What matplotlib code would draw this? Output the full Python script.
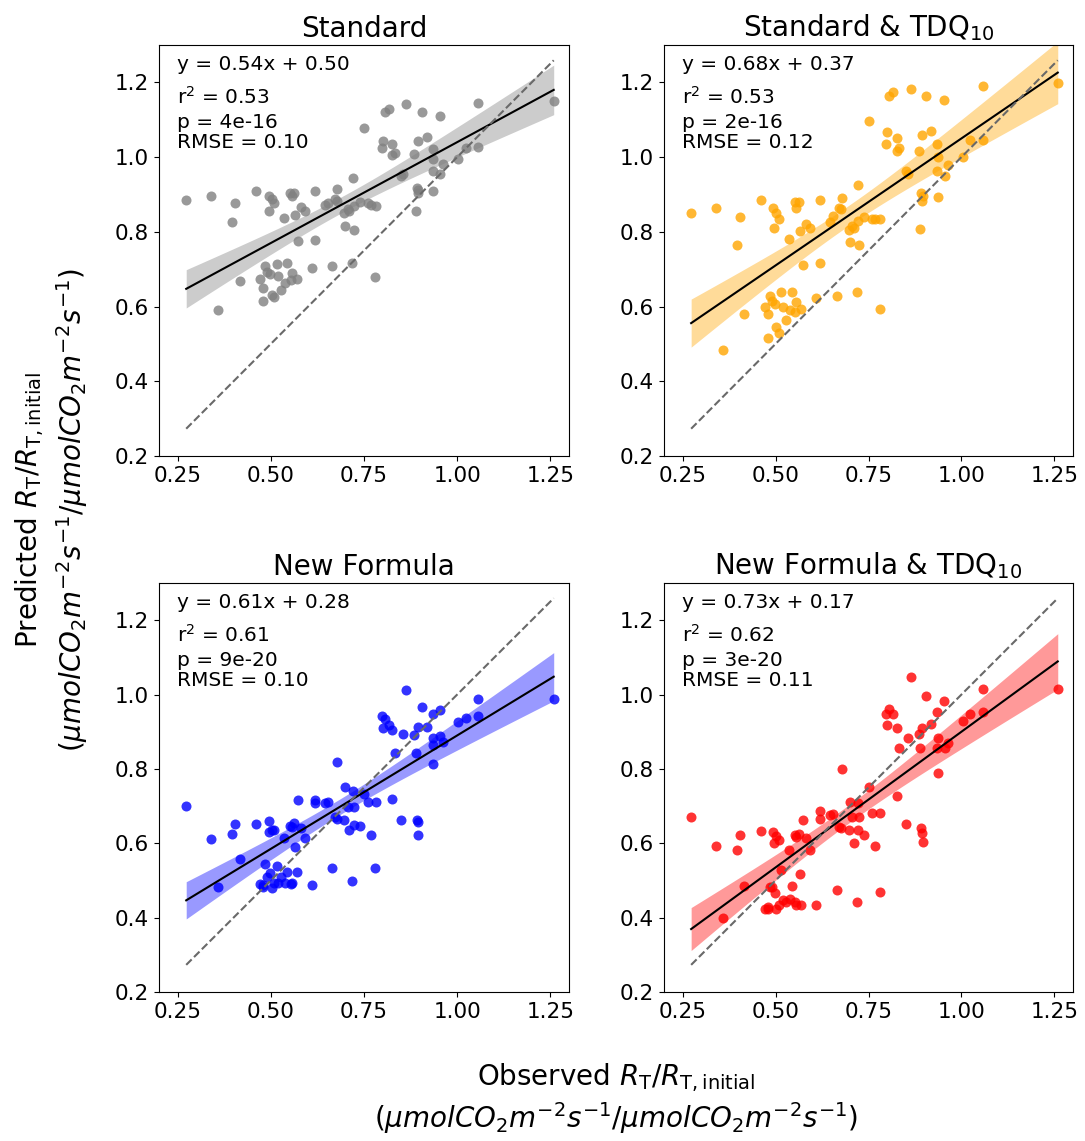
#!/usr/bin/env python3

import numpy as np
import matplotlib
matplotlib.use('Agg')
import matplotlib.pyplot as plt


# observed R_T / R_T,initial (same for every panel)
observed = [0.273, 0.339, 0.359, 0.396, 0.405, 0.416, 0.460, 0.494, 0.502, 0.509,
            0.495, 0.535, 0.551, 0.563, 0.556, 0.566, 0.581, 0.592, 0.574, 0.544,
            0.516, 0.484, 0.491, 0.556, 0.498, 0.520, 0.471, 0.569, 0.538, 0.480,
            0.502, 0.480, 0.553, 0.528, 0.508, 0.619, 0.619, 0.610, 0.646, 0.654,
            0.678, 0.672, 0.677, 0.665, 0.700, 0.706, 0.721, 0.724, 0.697, 0.710,
            0.723, 0.739, 0.718, 0.751, 0.760, 0.768, 0.782, 0.780, 0.806, 0.816,
            0.864, 0.905, 0.954, 1.057, 1.259, 0.801, 0.797, 0.826, 0.832, 0.826,
            0.894, 0.919, 0.885, 0.855, 0.850, 0.934, 0.936, 0.963, 0.934, 0.955,
            1.003, 1.023, 1.057, 0.891, 0.894, 0.896, 0.936, 0.889]

pred_standard = [0.885, 0.895, 0.590, 0.826, 0.876, 0.668, 0.910, 0.896, 0.887, 0.878,
                 0.856, 0.836, 0.903, 0.903, 0.896, 0.846, 0.867, 0.856, 0.776, 0.716,
                 0.713, 0.708, 0.693, 0.691, 0.686, 0.682, 0.675, 0.675, 0.664, 0.650,
                 0.630, 0.615, 0.670, 0.645, 0.625, 0.909, 0.777, 0.703, 0.871, 0.876,
                 0.914, 0.887, 0.882, 0.708, 0.816, 0.860, 0.944, 0.806, 0.850, 0.855,
                 0.870, 0.880, 0.717, 1.078, 0.877, 0.872, 0.869, 0.678, 1.121, 1.130,
                 1.141, 1.121, 1.111, 1.146, 1.150, 1.043, 1.023, 1.034, 1.012, 1.005,
                 1.043, 1.053, 1.008, 0.954, 0.950, 1.021, 0.994, 0.981, 0.963, 0.954,
                 0.994, 1.023, 1.028, 0.916, 0.905, 0.912, 0.910, 0.855]

pred_standard_tdq = [0.850, 0.865, 0.485, 0.766, 0.840, 0.580, 0.885, 0.865, 0.851, 0.835,
                     0.810, 0.781, 0.880, 0.880, 0.865, 0.801, 0.821, 0.810, 0.711, 0.639,
                     0.639, 0.629, 0.615, 0.612, 0.608, 0.600, 0.600, 0.594, 0.590, 0.579,
                     0.544, 0.515, 0.586, 0.564, 0.530, 0.885, 0.716, 0.624, 0.826, 0.841,
                     0.890, 0.865, 0.860, 0.629, 0.773, 0.815, 0.925, 0.766, 0.805, 0.810,
                     0.830, 0.840, 0.639, 1.097, 0.835, 0.835, 0.835, 0.594, 1.164, 1.174,
                     1.183, 1.164, 1.154, 1.189, 1.198, 1.067, 1.036, 1.052, 1.025, 1.015,
                     1.060, 1.069, 1.016, 0.954, 0.962, 1.034, 1.000, 0.980, 0.962, 0.950,
                     1.000, 1.046, 1.046, 0.904, 0.883, 0.895, 0.893, 0.808]

pred_new = [0.700, 0.611, 0.483, 0.626, 0.651, 0.558, 0.651, 0.660, 0.635, 0.637,
            0.630, 0.613, 0.646, 0.655, 0.644, 0.590, 0.640, 0.613, 0.716, 0.523,
            0.538, 0.543, 0.509, 0.493, 0.520, 0.493, 0.491, 0.523, 0.493, 0.483,
            0.480, 0.487, 0.491, 0.510, 0.493, 0.707, 0.716, 0.489, 0.707, 0.711,
            0.819, 0.671, 0.666, 0.533, 0.752, 0.698, 0.741, 0.698, 0.662, 0.637,
            0.648, 0.646, 0.498, 0.732, 0.711, 0.622, 0.711, 0.533, 0.935, 0.917,
            1.012, 0.967, 0.958, 0.987, 0.987, 0.909, 0.943, 0.904, 0.844, 0.720,
            0.913, 0.913, 0.891, 0.893, 0.662, 0.949, 0.882, 0.873, 0.865, 0.888,
            0.926, 0.938, 0.943, 0.662, 0.657, 0.622, 0.814, 0.844]

pred_new_tdq = [0.671, 0.592, 0.399, 0.583, 0.622, 0.485, 0.632, 0.630, 0.620, 0.608,
                0.601, 0.583, 0.622, 0.626, 0.617, 0.518, 0.613, 0.583, 0.662, 0.484,
                0.527, 0.483, 0.483, 0.433, 0.465, 0.447, 0.424, 0.433, 0.451, 0.429,
                0.424, 0.424, 0.442, 0.442, 0.433, 0.686, 0.666, 0.433, 0.675, 0.680,
                0.801, 0.644, 0.642, 0.474, 0.711, 0.671, 0.707, 0.671, 0.637, 0.601,
                0.637, 0.622, 0.442, 0.752, 0.682, 0.592, 0.682, 0.469, 0.962, 0.949,
                1.046, 0.996, 0.983, 1.016, 1.016, 0.917, 0.949, 0.909, 0.855, 0.726,
                0.909, 0.922, 0.893, 0.884, 0.651, 0.953, 0.884, 0.870, 0.855, 0.855,
                0.929, 0.949, 0.953, 0.640, 0.628, 0.604, 0.790, 0.855]

titles = ["Standard", r"Standard & TDQ$_{10}$", "New Formula", r"New Formula & TDQ$_{10}$"]
colors = ["grey", "orange", "blue", "red"]
slopes = [0.54, 0.68, 0.61, 0.73]
intercepts = [0.50, 0.37, 0.28, 0.17]
r2_vals = ["0.53", "0.53", "0.61", "0.62"]
p_vals = ["4e-16", "2e-16", "9e-20", "3e-20"]
rmse_vals = ["0.10", "0.12", "0.10", "0.11"]
predicted = [pred_standard, pred_standard_tdq, pred_new, pred_new_tdq]

W, H = 1085, 1141
fig = plt.figure(figsize=(W / 100, H / 100), dpi=100)

# axes boxes in pixels: left, top, width, height
boxes = [(159, 45, 410, 411), (664, 45, 409, 411),
         (159, 583, 410, 409), (664, 583, 409, 409)]

x = np.array(observed)
x_line = np.linspace(x.min(), x.max(), 100)

for i in range(4):
    l, t, w, h = boxes[i]
    ax = fig.add_axes([l / W, 1 - (t + h) / H, w / W, h / H])
    y = np.array(predicted[i])
    a, b = slopes[i], intercepts[i]

    # 95% confidence band of the fitted line
    n = len(x)
    resid = y - (a * x + b)
    s = np.sqrt(np.sum(resid ** 2) / (n - 2))
    sxx = np.sum((x - x.mean()) ** 2)
    se = s * np.sqrt(1.0 / n + (x_line - x.mean()) ** 2 / sxx)
    y_line = a * x_line + b

    ax.scatter(x, y, s=52, color=colors[i], alpha=0.8, linewidths=0, zorder=2)
    ax.fill_between(x_line, y_line - 1.99 * se, y_line + 1.99 * se,
                    color=colors[i], alpha=0.4, linewidth=0, zorder=1)
    ax.plot(x_line, y_line, 'k', lw=1.5, zorder=3)
    ax.plot([x.min(), x.max()], [x.min(), x.max()], '--', color='dimgrey', lw=1.5, zorder=3)

    ax.set_xlim(0.2, 1.3)
    ax.set_ylim(0.2, 1.3)
    ax.set_xticks([0.25, 0.5, 0.75, 1.0, 1.25])
    ax.set_yticks([0.2, 0.4, 0.6, 0.8, 1.0, 1.2])
    ax.tick_params(labelsize=15.5)
    ax.set_title(titles[i], fontsize=20)

    # fit statistics, one line at a time (pixel offsets below the top spine)
    lines = ["y = %.2fx + %.2f" % (a, b), "r$^2$ = " + r2_vals[i],
             "p = " + p_vals[i], "RMSE = " + rmse_vals[i]]
    for k, off in enumerate([20, 52, 77, 98]):
        ax.text(0.045, 1 - off / h, lines[k], transform=ax.transAxes,
                ha='left', va='center', fontsize=14.5)

unit = r"$(\mu mol CO_2 m^{-2} s^{-1}/\mu mol CO_2 m^{-2} s^{-1})$"
fig.text(616 / W, 1 - 1078 / H, r"Observed $R_\mathrm{T}/R_\mathrm{T,initial}$",
         ha='center', va='center', fontsize=20)
fig.text(616 / W, 1 - 1118 / H, unit, ha='center', va='center', fontsize=20)
fig.text(30 / W, 1 - 510 / H, r"Predicted $R_\mathrm{T}/R_\mathrm{T,initial}$",
         ha='center', va='center', rotation=90, fontsize=20)
fig.text(72 / W, 1 - 510 / H, unit, ha='center', va='center', rotation=90, fontsize=20)

plt.savefig("out.png", dpi=100)
